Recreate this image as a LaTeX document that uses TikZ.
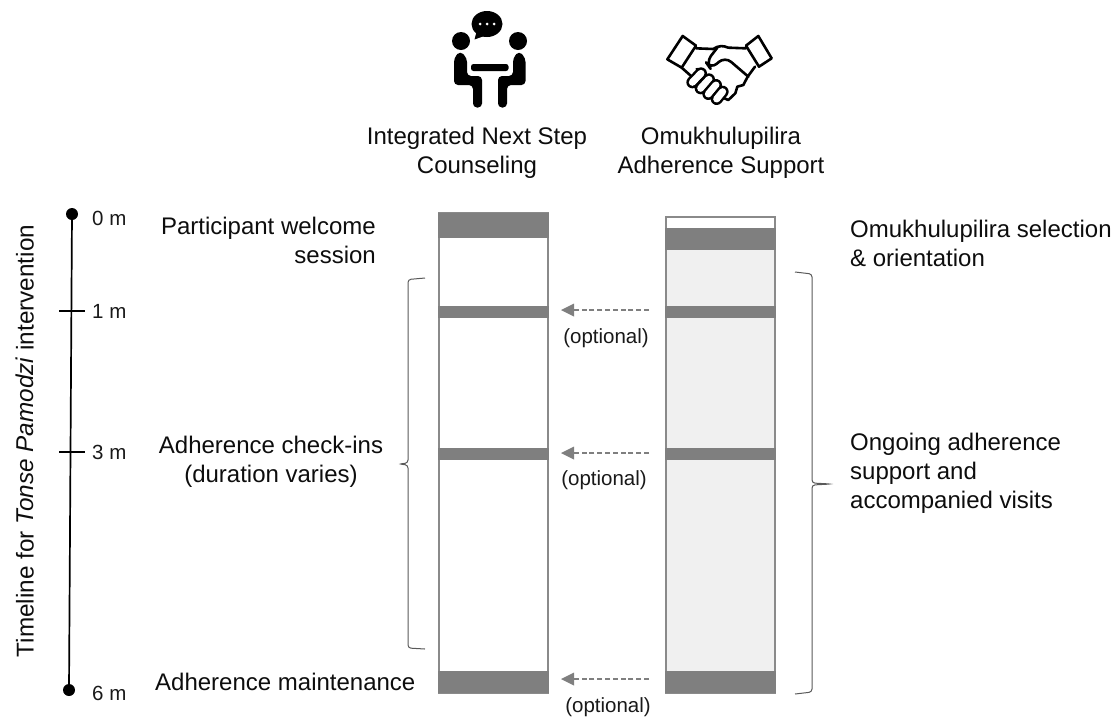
\documentclass[tikz,border=0pt]{standalone}
\usepackage{fontspec}
\setmainfont{Liberation Sans}
\begin{document}
\begin{tikzpicture}[x=1pt,y=-1pt,
  lab/.style={font=\fontsize{24}{29}\selectfont,inner sep=0pt,text=black!95},
  small/.style={font=\fontsize{20.5}{24}\selectfont,inner sep=0pt,text=black!90},
  barbox/.style={draw=barline,line width=2.4pt},
  band/.style={fill=bandgray,draw=none},
  dasharrow/.style={draw=bandgray,line width=1.5pt,dash pattern=on 5pt off 2.8pt},
  headtip/.style={fill=bandgray,draw=none},
  brace/.style={draw=black!65,line width=1pt,rounded corners=3pt},
  tline/.style={draw=black,line width=1.7pt},
  hs/.style={draw=black,line width=2.6pt,line join=round,line cap=round},
  figblack/.style={fill=black,draw=none}]
\definecolor{barline}{HTML}{8A8A8A}
\definecolor{bandgray}{HTML}{7F7F7F}
\definecolor{panel}{HTML}{F0F0F0}
\useasboundingbox (0,0) rectangle (1115,716);
% person icon
\fill[figblack] (461,41) circle (9);
\fill[figblack] (518,41) circle (9);
\fill[figblack] (487,24) ellipse (15.5 and 13);
\fill[figblack] (477,30) -- (474.5,39.5) -- (487,35) -- cycle;
\foreach \dx in {-7,0,7}{\fill[white] (487+\dx,24) circle (1.5);}
\fill[figblack,rounded corners=2.5pt] (471,64) rectangle (508.5,71);
\fill[figblack,rounded corners=4pt] (454,58) -- (460,51) -- (467,58) -- (467,76) -- (482,76) -- (482,107.5) -- (473,107.5) -- (473,85) -- (454,85) -- cycle;
\fill[figblack,rounded corners=4pt] (525.5,58) -- (519,51) -- (513,58) -- (513,76) -- (498,76) -- (498,107.5) -- (507,107.5) -- (507,85) -- (525.5,85) -- cycle;
% handshake icon
\begin{scope}[shift={(660,25)},x=0.3333pt,y=-0.3333pt]
\draw[hs] (68,33) -- (108,62) -- (65,128) -- (22,103) -- cycle;
\draw[hs] (295,33) -- (258,62) -- (297,125) -- (335,100) -- cycle;
\draw[hs] (108,70) -- (160,72) .. controls (178,60) and (190,62) .. (205,68) -- (258,70);
\draw[hs,rounded corners=8pt] (172,68) -- (138,112) -- (152,132) -- (195,95) -- (265,155);
\draw[hs] (285,125) -- (263,155) -- (250,180) -- (232,185) -- (226,205) -- (205,225) -- (188,218);
\draw[hs] (65,128) -- (92,152);
\draw[hs] (110,132) -- (175,175);
\foreach \ax/\ay/\bx/\by in {97/172/123/145,122/190/147/163,145/207/168/180,170/222/188/200}{
  \draw[black,line width=12pt,line cap=round] (\ax,\ay) -- (\bx,\by);
  \draw[white,line width=7pt,line cap=round] (\ax,\ay) -- (\bx,\by);
}
\end{scope}
% headings
\node[lab,align=center] (h1) at (477,152.5) {Integrated Next Step\\Counseling};
\node[lab,align=center] (h2) at (721,152.5) {Omukhulupilira\\Adherence Support};
% bars
\fill[white] (438,213) rectangle (549,693);
\fill[panel] (665,228) rectangle (776,693);
\draw[barbox] (439,213) rectangle (548,693);
\draw[barbox] (666,217) rectangle (775,693);
\fill[band] (438,213) rectangle (549,238);
\fill[band] (665,228) rectangle (776,250);
\foreach \a/\b in {306/318,448/460,671/693}{
  \fill[band] (438,\a) rectangle (549,\b);
  \fill[band] (665,\a) rectangle (776,\b);
}
% arrows
\foreach \y/\n in {310/a,453/b,679/c}{
  \coordinate (\n s) at (649,\y);
  \coordinate (\n e) at (574,\y);
  \coordinate (\n t) at (561,\y);
  \draw[dasharrow] (\n s) -- (\n e);
  \fill[headtip] (\n t) -- ++(13,-6.5) -- ++(0,13) -- cycle;
}
\node[small] (o1) at (606,338) {(optional)};
\node[small] (o2) at (604,480) {(optional)};
\node[small] (o3) at (608,707) {(optional)};
% timeline
\coordinate (t0) at (72,214);
\coordinate (t6) at (69,690);
\draw[tline] (t0) -- (t6);
\fill (t0) circle (6);
\fill (t6) circle (6);
\draw[tline] (59,311) -- (85,311);
\draw[tline] (59,452) -- (85,452);
\node[small,anchor=west] (m0) at (92,218) {0 m};
\node[small,anchor=west] (m1) at (92,311) {1 m};
\node[small,anchor=west] (m3) at (92,452) {3 m};
\node[small,anchor=west] (m6) at (92,693) {6 m};
\node[lab,rotate=90,font=\fontsize{24.3}{29}\selectfont] (tl) at (25,441) {Timeline for \textit{Tonse Pamodzi} intervention};
% left labels
\node[lab,align=right,anchor=east] (l1) at (376,240) {Participant welcome\\session};
\node[lab,align=center] (l2) at (271,462) {Adherence check-ins\\(duration varies)};
\node[lab,anchor=west] (l3) at (155,682) {Adherence maintenance};
% right labels
\node[lab,align=left,anchor=west] (r1) at (850,243) {Omukhulupilira selection\\\& orientation};
\node[lab,align=left,anchor=west] (r2) at (850,473) {Ongoing adherence\\support and\\accompanied visits};
% braces
\draw[brace] (425,278) -- (408,279.5) -- (408,463) -- (399,464) -- (408,465) -- (408,648) -- (425,649);
\draw[brace] (795,272) -- (812,274) -- (812,483) -- (831,484) -- (812,485) -- (812,692) -- (795,694);
\end{tikzpicture}
\end{document}
